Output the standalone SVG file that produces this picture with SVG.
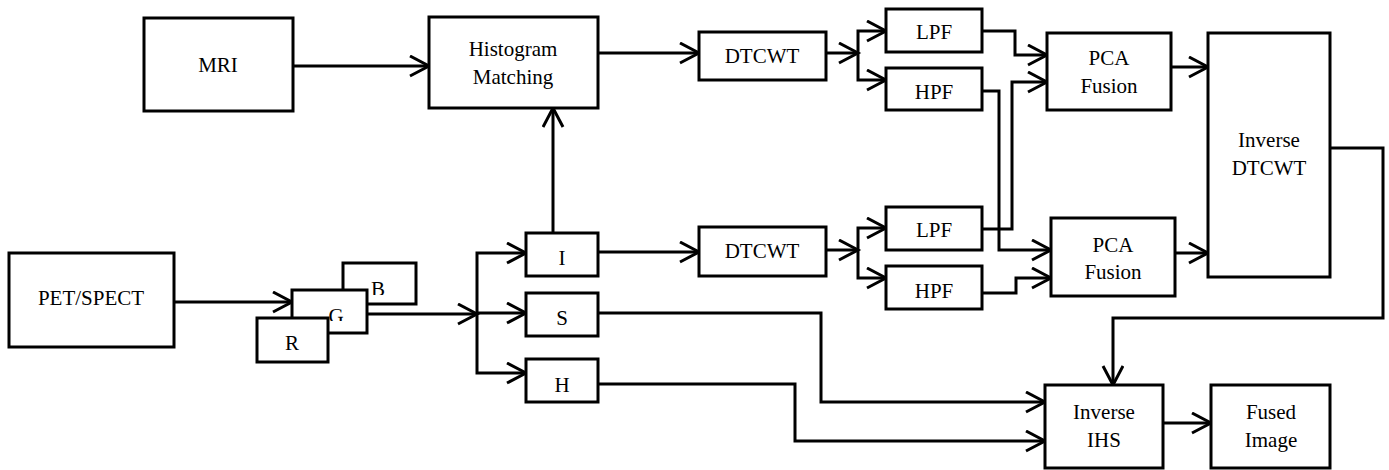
<svg xmlns="http://www.w3.org/2000/svg" width="1389" height="470" viewBox="0 0 1389 470">
<defs>
<marker id="arr" markerUnits="userSpaceOnUse" markerWidth="24" markerHeight="24" refX="20" refY="11" orient="auto" viewBox="0 0 24 24">
<path d="M1,1 L20,11 L1,21" fill="none" stroke="#000" stroke-width="3"/>
</marker>
<clipPath id="clipB"><rect x="340" y="260" width="80" height="35"/></clipPath>
<clipPath id="clipG"><rect x="290" y="288" width="80" height="33"/></clipPath>
<style>
.box{fill:#fff;stroke:#000;stroke-width:3}
.t{font-family:'Liberation Serif','Times New Roman','DejaVu Serif',serif;font-size:21px;fill:#000;text-anchor:middle}
.c{fill:none;stroke:#000;stroke-width:3;marker-end:url(#arr)}
</style>
</defs>
<rect width="1389" height="470" fill="#fff"/>
<g id="connectors">
<path class="c" d="M293,66 H429"/>
<path class="c" d="M598,53 H699"/>
<path class="c" d="M826,53 H858"/>
<path class="c" d="M858,53 V31 H886"/>
<path class="c" d="M858,53 V80 H886"/>
<path class="c" d="M982,31 H1015 V55 H1047"/>
<path class="c" d="M982,229 H1012 V82 H1047"/>
<path class="c" d="M982,91 H999 V250 H1051"/>
<path class="c" d="M982,293 H1016 V278 H1051"/>
<path class="c" d="M1171,67 H1208"/>
<path class="c" d="M1175,253 H1208"/>
<path class="c" d="M1330,148 H1383 V318 H1113 V385"/>
<path class="c" d="M174,302 H292"/>
<path class="c" d="M367,314 H477"/>
<path class="c" d="M477,313 V253 H526"/>
<path class="c" d="M477,313 H526"/>
<path class="c" d="M477,313 V373 H526"/>
<path class="c" d="M553,233 V108"/>
<path class="c" d="M598,252 H699"/>
<path class="c" d="M826,250 H858"/>
<path class="c" d="M858,250 V228 H886"/>
<path class="c" d="M858,250 V278 H886"/>
<path class="c" d="M598,313 H821 V402 H1045"/>
<path class="c" d="M598,384 H795 V441 H1045"/>
<path class="c" d="M1163,423 H1211"/>
</g>
<g id="mri"><rect class="box" x="144" y="18" width="149" height="93"/><text class="t" x="218" y="72">MRI</text></g>
<g id="histogram"><rect class="box" x="429" y="17" width="169" height="91"/><text class="t" x="513" y="56">Histogram</text><text class="t" x="513" y="84">Matching</text></g>
<g id="dtcwt1"><rect class="box" x="699" y="32" width="127" height="48"/><text class="t" x="762" y="63">DTCWT</text></g>
<g id="lpf1"><rect class="box" x="886" y="9" width="96" height="43"/><text class="t" x="934" y="39">LPF</text></g>
<g id="hpf1"><rect class="box" x="886" y="68" width="96" height="42"/><text class="t" x="934" y="99">HPF</text></g>
<g id="pca1"><rect class="box" x="1047" y="33" width="124" height="77"/><text class="t" x="1109" y="65">PCA</text><text class="t" x="1109" y="93">Fusion</text></g>
<g id="invdtcwt"><rect class="box" x="1208" y="33" width="122" height="244"/><text class="t" x="1269" y="147">Inverse</text><text class="t" x="1269" y="175">DTCWT</text></g>
<g id="pet"><rect class="box" x="9" y="253" width="165" height="94"/><text class="t" x="91" y="305">PET/SPECT</text></g>
<g id="b"><rect class="box" x="343" y="263" width="73" height="41"/><text class="t" x="378" y="296" clip-path="url(#clipB)">B</text></g>
<g id="g"><rect class="box" x="292" y="290" width="75" height="43"/><text class="t" x="336" y="323" clip-path="url(#clipG)">G</text></g>
<g id="r"><rect class="box" x="257" y="318" width="71" height="44"/><text class="t" x="292" y="350">R</text></g>
<g id="i"><rect class="box" x="526" y="233" width="72" height="43"/><text class="t" x="562" y="265">I</text></g>
<g id="s"><rect class="box" x="526" y="293" width="72" height="43"/><text class="t" x="562" y="325">S</text></g>
<g id="h"><rect class="box" x="526" y="359" width="72" height="43"/><text class="t" x="562" y="392">H</text></g>
<g id="dtcwt2"><rect class="box" x="699" y="227" width="127" height="49"/><text class="t" x="762" y="258">DTCWT</text></g>
<g id="lpf2"><rect class="box" x="886" y="207" width="96" height="43"/><text class="t" x="934" y="237">LPF</text></g>
<g id="hpf2"><rect class="box" x="886" y="266" width="96" height="43"/><text class="t" x="934" y="298">HPF</text></g>
<g id="pca2"><rect class="box" x="1051" y="218" width="124" height="78"/><text class="t" x="1113" y="252">PCA</text><text class="t" x="1113" y="279">Fusion</text></g>
<g id="invihs"><rect class="box" x="1045" y="385" width="118" height="83"/><text class="t" x="1104" y="419">Inverse</text><text class="t" x="1104" y="447">IHS</text></g>
<g id="fused"><rect class="box" x="1211" y="385" width="119" height="83"/><text class="t" x="1271" y="419">Fused</text><text class="t" x="1271" y="447">Image</text></g>
</svg>
